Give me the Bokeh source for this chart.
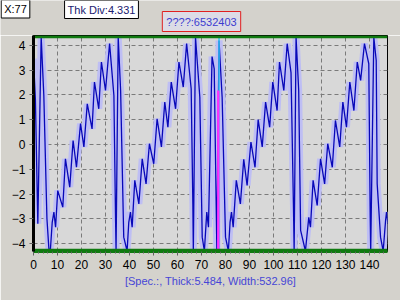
from bokeh.plotting import figure
from bokeh.models import Range1d, Span, Label, SingleIntervalTicker, FixedTicker
from bokeh.layouts import column
from bokeh.embed import file_html
from bokeh.resources import INLINE

# ---- data ----
xs = [0, 0.8, 1.8, 3.2, 4.3, 5.6, 6.4, 7.0, 7.8, 8.5, 9.2, 10.1, 12.2, 13.3, 15.1, 16.5, 17.9,
      19.6, 21.0, 22.4, 24.4, 25.4, 27.2, 28.3, 30.0, 31.7, 33.5, 34.2, 34.4, 35.3, 36.3, 37.6,
      39.0, 39.7, 40.4, 41.1, 42.2, 43.9, 45.3, 46.9, 48.3, 50.1, 51.5, 53.3, 54.7, 56.0, 57.4,
      59.2, 60.6, 62.4, 63.8, 65.7, 66.4, 66.6, 67.5, 69.3, 70.3, 71.2, 72.2, 72.9, 74.4, 75.3,
      76.4, 77.3, 78.6, 80.0, 81.2, 81.9, 82.5, 83.2, 84.5, 86.2, 87.6, 89.0, 90.6, 92.3, 93.6,
      95.3, 96.7, 98.4, 99.7, 101.5, 102.5, 104.3, 105.7, 107.3, 108.3, 108.6, 109.4, 110.5,
      111.3, 113.3, 114.7, 115.4, 116.5, 118.2, 119.6, 121.3, 122.6, 124.5, 125.8, 127.6, 128.9,
      130.4, 131.8, 133.5, 134.9, 136.3, 137.9, 139.7, 140.3, 140.5, 141.8, 142.8, 143.2, 144.6,
      145.7, 146.7, 147.1, 147.7]
ys = [3.46, 1.8, -3.2, 4.33, 1.98, -3.0, -4.2, -4.3, -3.14, -2.73, -3.34, -1.86, -2.53, -0.58,
      -1.72, 0.16, -0.92, 0.84, -0.10, 1.64, 0.63, 2.52, 1.44, 3.33, 2.18, 4.07, 1.98, -3.07, -4.3,
      4.33, 2.18, -3.74, -4.3, -3.14, -2.73, -3.34, -1.45, -2.40, -0.58, -1.59, 0.03, -0.78, 1.04,
      -0.10, 1.71, 0.70, 2.52, 1.44, 3.33, 2.32, 4.07, 2.25, -2.40, -4.3, 4.33, 1.91, -3.74, -4.3,
      -2.73, -3.34, 3.55, 3.05, -4.3, 4.2, 1.91, -3.74, -4.3, -3.14, -2.73, -3.34, -1.45, -2.40,
      -0.60, -1.65, 0.10, -0.92, 1.00, -0.10, 1.71, 0.70, 2.52, 1.37, 3.33, 2.18, 4.07, 2.9, -2.4,
      -4.3, 4.33, 2.18, -3.47, -4.3, -2.94, -3.34, -1.45, -2.46, -0.58, -1.59, 0.03, -0.92, 0.97,
      -0.10, 1.71, 0.70, 2.52, 1.37, 3.33, 2.59, 4.07, 3.26, -2.94, -4.3, 4.33, 3.39, -1.59, -3.74,
      -4.3, -3.07, -2.73, -3.2]
x_ticks = [0, 10, 20, 30, 40, 50, 60, 70, 80, 90, 100, 110, 120, 130, 140]
y_ticks = [-4, -3, -2, -1, 0, 1, 2, 3, 4]
x_max = 147.5
y_min, y_max = -4.32, 4.40
div_top, div_bottom = 4.35, -4.27
cursor_x = 77
cursor_y = 2.18
cursor_label = "X:77"
thk_label = "Thk Div:4.331"
title_label = "????:6532403"
caption = "[Spec.:, Thick:5.484, Width:532.96]"

BG = "#d4d2cc"
PLOT_BG = "#d8d8d8"
FONT = "Liberation Sans"
GREEN = "#107a10"
TOP_H = 35

# ---- header strip (boxed labels) ----
top = figure(width=400, height=TOP_H, x_range=Range1d(0, 400), y_range=Range1d(0, TOP_H),
             output_backend="svg", toolbar_location=None, x_axis_type=None, y_axis_type=None,
             min_border=0, frame_align=False)
top.background_fill_color = BG
top.border_fill_color = BG
top.outline_line_color = None
top.xgrid.visible = False
top.ygrid.visible = False


def box_label(text, cx, cy, color, border, bg, pad):
    return Label(x=cx, y=TOP_H - cy, text=text, text_align="center", text_baseline="middle",
                 text_font=FONT, text_font_size="11px", text_color=color,
                 border_line_color=border, border_line_width=1,
                 background_fill_color=bg, padding=pad)


top.add_layout(box_label(cursor_label, 15, 8.5, "black", "black", "white", 3))
top.add_layout(box_label(thk_label, 101, 9, "#202070", "black", "white", 3))
top.add_layout(box_label(title_label, 201, 21, "#3c3cd0", "#e02020", "#dcdce6", 4))

# ---- main chart ----
p = figure(width=400, height=300 - TOP_H, x_range=Range1d(0, x_max), y_range=Range1d(y_min, y_max),
           output_backend="svg", toolbar_location=None, frame_align=False,
           min_border_left=33, min_border_right=13, min_border_top=0, min_border_bottom=49)
p.background_fill_color = PLOT_BG
p.border_fill_color = BG
p.outline_line_color = "black"
p.outline_line_width = 1

p.xaxis.ticker = SingleIntervalTicker(interval=10, num_minor_ticks=5)
p.yaxis.ticker = FixedTicker(ticks=y_ticks)
p.xgrid.ticker = FixedTicker(ticks=x_ticks)
for ax in (p.xaxis, p.yaxis):
    ax.major_label_text_font = FONT
    ax.major_label_text_font_size = "12px"
    ax.major_label_text_color = "black"
    ax.major_tick_in = 0
    ax.major_tick_out = 4
    ax.minor_tick_in = 0
    ax.minor_tick_out = 2
    ax.major_tick_line_color = "#606060"
    ax.minor_tick_line_color = "#606060"
p.yaxis.minor_tick_line_color = None
p.xaxis.axis_line_color = GREEN
p.xaxis.axis_line_width = 3
p.yaxis.axis_line_color = "black"
p.yaxis.axis_line_width = 3
p.yaxis.major_label_standoff = 4
p.xaxis.major_label_standoff = 4
p.xaxis.axis_label = caption
p.xaxis.axis_label_text_font = FONT
p.xaxis.axis_label_text_font_size = "11px"
p.xaxis.axis_label_text_font_style = "normal"
p.xaxis.axis_label_text_color = "#4646d6"
p.xaxis.axis_label_standoff = 3

for g in (p.xgrid, p.ygrid):
    g.grid_line_color = "#7a7a7a"
    g.grid_line_dash = "4 3"
    g.grid_line_width = 1

p.add_layout(Span(location=div_top, dimension="width", line_color=GREEN, line_width=3))
p.add_layout(Span(location=div_bottom, dimension="width", line_color=GREEN, line_width=3))

p.line(xs, ys, line_width=7, line_color="#bebef4")
p.line(xs, ys, line_width=1.3, line_color="#0808b8")

p.segment(x0=[cursor_x + 0.3], y0=[div_bottom], x1=[cursor_x + 0.3], y1=[div_top],
          line_color="#30c8f4", line_width=1.5)
p.vbar(x=[cursor_x], top=[cursor_y], bottom=[div_bottom], width=1.0,
       fill_color="#ff30ff", line_color=None)

p.add_layout(Span(location=0, dimension="height", line_color="black", line_width=3))

layout = column(top, p, spacing=0)
open("out.html", "w").write(file_html(layout, INLINE))
